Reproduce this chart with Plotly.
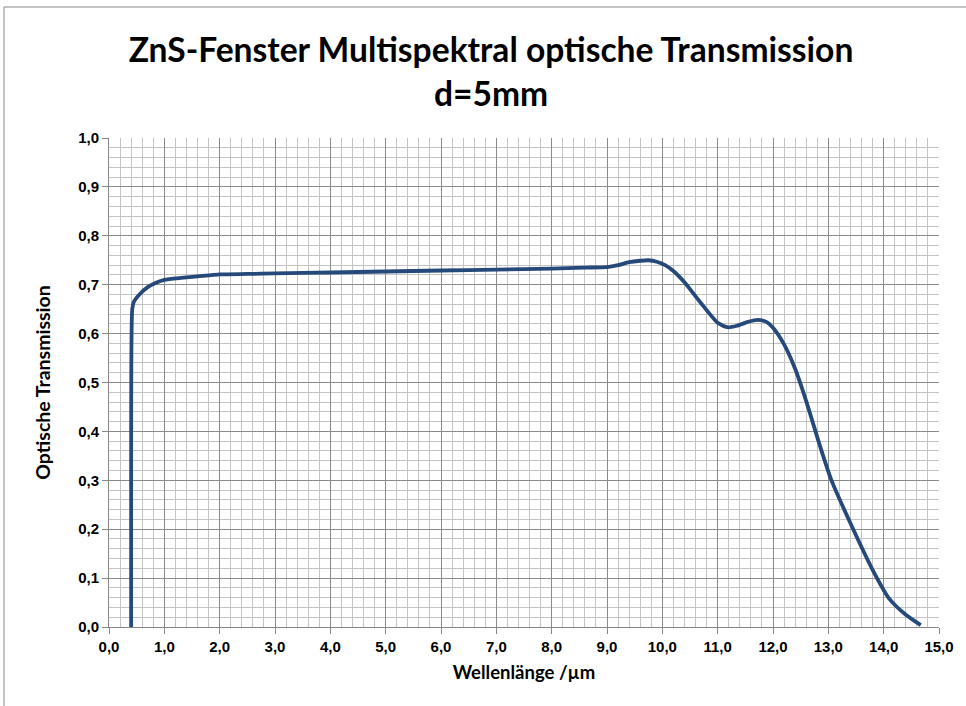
import plotly.graph_objects as go

# Wavelength (µm) and optical transmission
wavelength = [0.40, 0.40, 0.42, 0.45, 0.55, 0.70, 0.85, 1.00, 1.30, 1.60, 2.00, 2.50, 3.00,
              4.00, 5.00, 6.00, 7.00, 8.00, 8.60, 9.00, 9.20, 9.40, 9.60, 9.75, 9.90,
              10.05, 10.20, 10.40, 10.70, 11.00, 11.17, 11.35, 11.55, 11.72, 11.88,
              12.00, 12.20, 12.40, 12.60, 12.85, 13.05, 13.40, 13.80, 14.10, 14.40, 14.67]
transmission = [0.000, 0.300, 0.650, 0.665, 0.680, 0.695, 0.704, 0.710, 0.714, 0.717, 0.721,
                0.722, 0.723, 0.725, 0.727, 0.729, 0.731, 0.733, 0.735, 0.736, 0.740, 0.746,
                0.749, 0.750, 0.747, 0.740, 0.728, 0.705, 0.662, 0.622, 0.613, 0.616,
                0.624, 0.628, 0.624, 0.612, 0.578, 0.528, 0.462, 0.370, 0.302, 0.212,
                0.117, 0.058, 0.025, 0.004]

x_tickvals = [i * 1.0 for i in range(16)]
x_ticktext = ["0,0", "1,0", "2,0", "3,0", "4,0", "5,0", "6,0", "7,0", "8,0", "9,0",
              "10,0", "11,0", "12,0", "13,0", "14,0", "15,0"]
y_tickvals = [i / 10 for i in range(11)]
y_ticktext = ["0,0", "0,1", "0,2", "0,3", "0,4", "0,5", "0,6", "0,7", "0,8", "0,9", "1,0"]

title_text = "ZnS-Fenster Multispektral optische Transmission<br>d=5mm"
x_title = "Wellenlänge /µm"
y_title = "Optische Transmission"

W, H = 966, 706
L, R, T, B = 109, 27, 138, 79
PW, PH = W - L - R, H - T - B

fig = go.Figure()
fig.add_trace(go.Scatter(
    x=wavelength, y=transmission, mode="lines",
    line=dict(color="#24497a", width=3.8, shape="spline", smoothing=0.6),
    showlegend=False, hoverinfo="skip",
))

tick_font = dict(family="Liberation Sans, Arial, sans-serif", size=15, color="#000000",
                 weight="bold")

fig.update_xaxes(
    range=[0, 15], tickvals=x_tickvals, ticktext=x_ticktext,
    tickfont=tick_font, ticks="outside", ticklen=6, tickcolor="#868686",
    showline=True, linecolor="#868686", linewidth=1,
    showgrid=True, gridcolor="#8a8a8a", gridwidth=1, zeroline=False,
    minor=dict(dtick=0.2, showgrid=True, gridcolor="#c4c4c4", gridwidth=1, ticks=""),
    title=dict(text=x_title, font=dict(family="Lato, Liberation Sans, sans-serif", size=18.5,
                                        color="#000000", weight="bold"), standoff=12),
)
fig.update_yaxes(
    range=[0, 1.0], tickvals=y_tickvals, ticktext=y_ticktext,
    tickfont=tick_font, ticks="outside", ticklen=6, tickcolor="#868686",
    showline=True, linecolor="#868686", linewidth=1,
    showgrid=True, gridcolor="#8a8a8a", gridwidth=1, zeroline=False,
    minor=dict(dtick=0.02, showgrid=True, gridcolor="#c4c4c4", gridwidth=1, ticks=""),
    title=dict(text=y_title, font=dict(family="Lato, Liberation Sans, sans-serif", size=19.5,
                                        color="#000000", weight="bold"), standoff=22),
)

fig.update_layout(
    width=W, height=H,
    margin=dict(l=L, r=R, t=T, b=B, autoexpand=False),
    paper_bgcolor="#ffffff", plot_bgcolor="#ffffff",
    title=dict(text=title_text, x=491 / W, xanchor="center", y=0.912, yanchor="top",
               font=dict(family="Lato, Open Sans, sans-serif", size=33.6, color="#000000",
                         weight="bold")),
    font=dict(family="Liberation Sans, Arial, sans-serif"),
    shapes=[dict(type="rect", xref="paper", yref="paper",
                 x0=(4 - L) / PW, x1=(1100 - L) / PW,
                 y0=-0.5, y1=(H - B - 7) / PH,
                 line=dict(color="#8c8c8c", width=1), fillcolor="rgba(0,0,0,0)",
                 layer="below")],
)

fig.write_html("out.html", config={"displayModeBar": False},
               post_script="document.body.style.margin='0';document.body.style.overflow='hidden';")
